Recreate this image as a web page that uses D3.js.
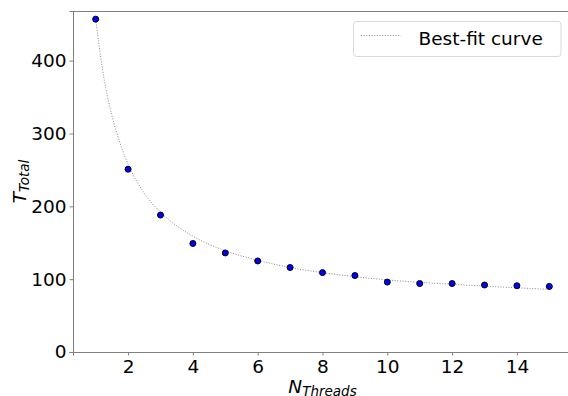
<!DOCTYPE html>
<html>
<head>
<meta charset="utf-8">
<script src="https://cdn.jsdelivr.net/npm/d3@7"></script>
<style>
  body { margin: 0; background: #fff; }
  text { font-family: "DejaVu Sans", sans-serif; fill: #000; }
</style>
</head>
<body>
<div id="chart"></div>
<script>
// measured points (threads -> total time)
var threads = [1, 2, 3, 4, 5, 6, 7, 8, 9, 10, 11, 12, 13, 14, 15];
var tTotal = [457, 251, 188, 149, 136, 125, 116, 109, 105, 96, 94, 94, 92, 91, 90];

// best-fit curve at a few x positions
var fitX = [1, 1.25, 1.5, 1.75, 2, 2.5, 3, 4, 5, 6, 7, 8, 10, 12, 15];
var fitY = [457, 377, 325, 287, 258, 218, 192, 159, 139, 126, 116, 109, 99, 93, 86];

var xTicks = [2, 4, 6, 8, 10, 12, 14];
var yTicks = [0, 100, 200, 300, 400];

(function () {
    var width = 568, height = 396;
    var pLeft = 73, pTop = 11, pRight = 572, pBottom = 352;

    var svg = d3.select("#chart").append("svg")
        .attr("width", width)
        .attr("height", height);

    var x = d3.scaleLinear().domain([0.3, 15.7]).range([pLeft, pRight]);
    var y = d3.scaleLinear().domain([0, 468.2]).range([pBottom, pTop]);

    //spines (left + top + bottom, right one falls off the image)
    var spineColor = "#808080";
    svg.append("line").attr("x1", pLeft).attr("x2", pRight).attr("y1", pTop + 0.5).attr("y2", pTop + 0.5)
        .attr("stroke", spineColor).attr("stroke-width", 1);

    var xAxis = svg.append("g")
        .attr("transform", "translate(0," + pBottom + ")")
        .call(d3.axisBottom(x).tickValues(xTicks).tickSize(3.5).tickPadding(4).tickFormat(d3.format("d")));
    var yAxis = svg.append("g")
        .attr("transform", "translate(" + pLeft + ",0)")
        .call(d3.axisLeft(y).tickValues(yTicks).tickSize(3.5).tickPadding(3).tickFormat(d3.format("d")));

    [xAxis, yAxis].forEach(function (g) {
        g.select(".domain").attr("stroke", spineColor);
        g.selectAll(".tick line").attr("stroke", spineColor);
        g.selectAll(".tick text").attr("font-size", 18.5).attr("font-family", "DejaVu Sans").attr("fill", "#000");
    });

    //fit curve
    var line = d3.line()
        .x(function (d) { return x(d[0]); })
        .y(function (d) { return y(d[1]); })
        .curve(d3.curveMonotoneX);

    svg.append("path")
        .datum(d3.zip(fitX, fitY))
        .attr("d", line)
        .attr("fill", "none")
        .attr("stroke", "#888")
        .attr("stroke-width", 1)
        .attr("stroke-dasharray", "1,1.65");

    //points
    svg.append("g").selectAll("circle")
        .data(d3.zip(threads, tTotal))
        .enter().append("circle")
        .attr("cx", function (d) { return x(d[0]); })
        .attr("cy", function (d) { return y(d[1]); })
        .attr("r", 3)
        .attr("fill", "#0000ff")
        .attr("stroke", "#000")
        .attr("stroke-width", 1);

    //axis labels
    var xl = svg.append("text")
        .attr("x", (pLeft + pRight) / 2)
        .attr("y", 392.5)
        .attr("text-anchor", "middle")
        .attr("font-style", "italic");
    xl.append("tspan").attr("font-size", 18.5).text("N");
    xl.append("tspan").attr("font-size", 13.5).attr("dy", 3.5).text("Threads");

    var yl = svg.append("text")
        .attr("transform", "translate(25.5," + (pTop + pBottom) / 2 + ") rotate(-90)")
        .attr("text-anchor", "middle")
        .attr("font-style", "italic");
    yl.append("tspan").attr("font-size", 18.5).text("T");
    yl.append("tspan").attr("font-size", 13.5).attr("dy", 3.5).text("Total");

    //legend
    var legend = svg.append("g");
    legend.append("rect")
        .attr("x", 353.5).attr("y", 21.5)
        .attr("width", 207.5).attr("height", 35)
        .attr("rx", 3)
        .attr("fill", "#fff").attr("fill-opacity", 0.8)
        .attr("stroke", "#d9d9d9").attr("stroke-width", 1);
    legend.append("line")
        .attr("x1", 361).attr("x2", 401).attr("y1", 35.5).attr("y2", 35.5)
        .attr("stroke", "#888").attr("stroke-width", 1).attr("stroke-dasharray", "1,1.65");
    legend.append("text")
        .attr("x", 418.5).attr("y", 45)
        .attr("font-size", 18.5)
        .text("Best-fit curve");
})();
</script>
</body>
</html>
